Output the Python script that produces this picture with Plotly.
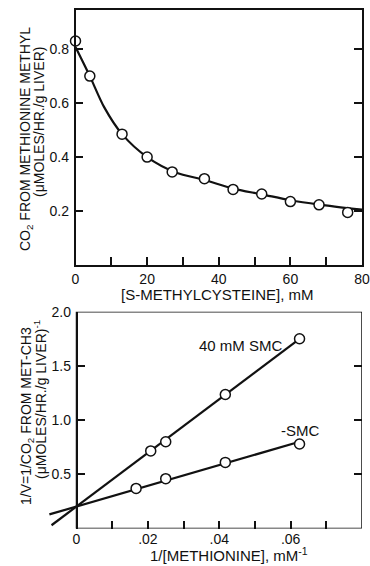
import plotly.graph_objects as go

W, H = 370, 566

# ---------------- data: top panel ----------------
smc_conc = [0, 4, 13, 20, 27, 36, 44, 52, 60, 68, 76]
co2_rate = [0.83, 0.70, 0.485, 0.40, 0.345, 0.32, 0.28, 0.263, 0.235, 0.223, 0.195]
curve_x = [0, 4, 8, 13, 20, 28, 36, 44, 52, 60, 68, 80]
curve_y = [0.808, 0.70, 0.585, 0.485, 0.40, 0.343, 0.315, 0.283, 0.262, 0.240, 0.224, 0.205]

# ---------------- data: bottom panel ----------------
inv_met_smc = [0.0208, 0.025, 0.0417, 0.0625]
inv_v_smc = [0.716, 0.80, 1.236, 1.75]
inv_met_ctrl = [0.0167, 0.025, 0.0417, 0.0625]
inv_v_ctrl = [0.37, 0.46, 0.61, 0.78]
fit_smc_x = [-0.0070, 0.0625]
fit_smc_y = [0.03, 1.75]
fit_ctrl_x = [-0.0076, 0.0625]
fit_ctrl_y = [0.13, 0.80]

top_xticks = [0, 20, 40, 60, 80]
top_xlabels = ["0", "20", "40", "60", "80"]
top_xminor = [10, 30, 50, 70]
top_yticks = [0.2, 0.4, 0.6, 0.8]
top_ylabels = ["0.2", "0.4", "0.6", "0.8"]
bot_xticks = [0, 0.02, 0.04, 0.06, 0.08]
bot_xlabels = ["0", ".02", ".04", ".06", ".08"]
bot_xminor = [0.01, 0.03, 0.05, 0.07]
bot_yticks = [0.5, 1.0, 1.5, 2.0]
bot_ylabels = ["0.5", "1.0", "1.5", "2.0"]

TOP_XR = [0, 80]
TOP_YR = [0, 0.945]
BOT_XR = [-0.0078, 0.08]
BOT_YR = [0, 2.0]

FONT = "Liberation Sans"
BLACK = "#111111"

def px(x):
    return x / W

def py(y):
    return 1 - y / H

fig = go.Figure()

mk = dict(size=10, color="white", line=dict(color=BLACK, width=1.5))

# top panel
fig.add_trace(go.Scatter(x=curve_x, y=curve_y, mode="lines",
                         line=dict(color=BLACK, width=2.2, shape="spline", smoothing=0.8),
                         xaxis="x", yaxis="y", hoverinfo="skip"))
fig.add_trace(go.Scatter(x=smc_conc, y=co2_rate, mode="markers", marker=mk,
                         xaxis="x", yaxis="y", cliponaxis=False))

# bottom panel
fig.add_trace(go.Scatter(x=fit_smc_x, y=fit_smc_y, mode="lines", line=dict(color=BLACK, width=2.2),
                         xaxis="x2", yaxis="y2"))
fig.add_trace(go.Scatter(x=fit_ctrl_x, y=fit_ctrl_y, mode="lines", line=dict(color=BLACK, width=2.2),
                         xaxis="x2", yaxis="y2"))
fig.add_trace(go.Scatter(x=inv_met_smc, y=inv_v_smc, mode="markers", marker=mk,
                         xaxis="x2", yaxis="y2", cliponaxis=False))
fig.add_trace(go.Scatter(x=inv_met_ctrl, y=inv_v_ctrl, mode="markers", marker=mk,
                         xaxis="x2", yaxis="y2", cliponaxis=False))
# invisible trace for right-side tick axis of bottom panel
fig.add_trace(go.Scatter(x=[0.08], y=[2.0], mode="markers", marker=dict(opacity=0),
                         xaxis="x2", yaxis="y3", hoverinfo="skip"))

tickfont = dict(family=FONT, size=14, color=BLACK)
tk = dict(ticks="inside", ticklen=8, tickwidth=1.5, tickcolor=BLACK, showgrid=False,
          zeroline=False, automargin=False)
minor = lambda vals: dict(tickvals=vals, ticks="inside", ticklen=8, tickwidth=1.5,
                          tickcolor=BLACK, showgrid=False)

# geometry
top_left, top_right = 75.5, 362
top_top, top_bot = 10, 265
bot_zero_px, bot_right = 76.5, 362
bot_top, bot_bot = 311.7, 528.5
scale = (bot_right - bot_zero_px) / (BOT_XR[1] - 0)
bot_left = bot_zero_px - (0 - BOT_XR[0]) * scale

fig.update_layout(
    width=W, height=H,
    margin=dict(l=0, r=0, t=0, b=0, autoexpand=False),
    paper_bgcolor="white", plot_bgcolor="white",
    showlegend=False,
    font=dict(family=FONT, color=BLACK),
    xaxis=dict(domain=[px(top_left), px(top_right)], range=TOP_XR, anchor="y",
               tickvals=top_xticks, ticktext=top_xlabels, minor=minor(top_xminor),
               showline=True, linecolor=BLACK, linewidth=1.5, mirror=True,
               tickfont=tickfont, ticklabelstandoff=0, **tk),
    yaxis=dict(domain=[py(top_bot), py(top_top)], range=TOP_YR, anchor="x",
               tickvals=top_yticks, ticktext=top_ylabels,
               showline=True, linecolor=BLACK, linewidth=1.5, mirror="ticks",
               tickfont=tickfont, ticklabelstandoff=2, **tk),
    xaxis2=dict(domain=[px(bot_left), px(bot_right)], range=BOT_XR, anchor="y2",
                tickvals=bot_xticks, ticktext=bot_xlabels, minor=minor(bot_xminor),
                showline=False, tickfont=tickfont, ticklabelstandoff=0, **tk),
    yaxis2=dict(domain=[py(bot_bot), py(bot_top)], range=BOT_YR, anchor="free", position=px(bot_zero_px),
                tickvals=bot_yticks, ticktext=bot_ylabels,
                showline=True, linecolor=BLACK, linewidth=1.5,
                tickfont=tickfont, ticklabelstandoff=2, **tk),
    yaxis3=dict(domain=[py(bot_bot), py(bot_top)], range=BOT_YR, anchor="x2", overlaying="y2", side="right",
                tickvals=bot_yticks, showticklabels=False, showline=False, **tk),
)

# frame of the bottom panel (from x=0 to the right end of the axis)
fig.add_shape(type="rect", xref="x2", yref="y2", x0=0, x1=BOT_XR[1], y0=BOT_YR[0], y1=BOT_YR[1],
              line=dict(color=BLACK, width=1.5), layer="above")

ann = [
    dict(text="CO<sub>2</sub> FROM METHIONINE METHYL", x=px(26), y=py(139), textangle=-90, size=14),
    dict(text="(μMOLES/HR./g LIVER)", x=px(39), y=py(122), textangle=-90, size=14),
    dict(text="[S-METHYLCYSTEINE], mM", x=px(217), y=py(294), textangle=0, size=15),
    dict(text="1/V=1/CO<sub>2</sub> FROM MET-CH3", x=px(27), y=py(416), textangle=-90, size=14),
    dict(text="(μMOLES/HR./g LIVER)<sup>-1</sup>", x=px(40), y=py(400), textangle=-90, size=14),
    dict(text="1/[METHIONINE], mM<sup>-1</sup>", x=px(229), y=py(554), textangle=0, size=15),
]
for a in ann:
    s = a.pop("size")
    fig.add_annotation(xref="paper", yref="paper", showarrow=False,
                       font=dict(family=FONT, size=s, color=BLACK),
                       xanchor="center", yanchor="middle", **a)

fig.add_annotation(text="40 mM SMC", x=0.0461, y=1.69, xref="x2", yref="y2", showarrow=False,
                   font=dict(family=FONT, size=15, color=BLACK))
fig.add_annotation(text="-SMC", x=0.0626, y=0.90, xref="x2", yref="y2", showarrow=False,
                   font=dict(family=FONT, size=15, color=BLACK))

fig.write_html("out.html", config={"displayModeBar": False},
               post_script="document.body.style.margin='0';document.body.style.overflow='hidden';")
